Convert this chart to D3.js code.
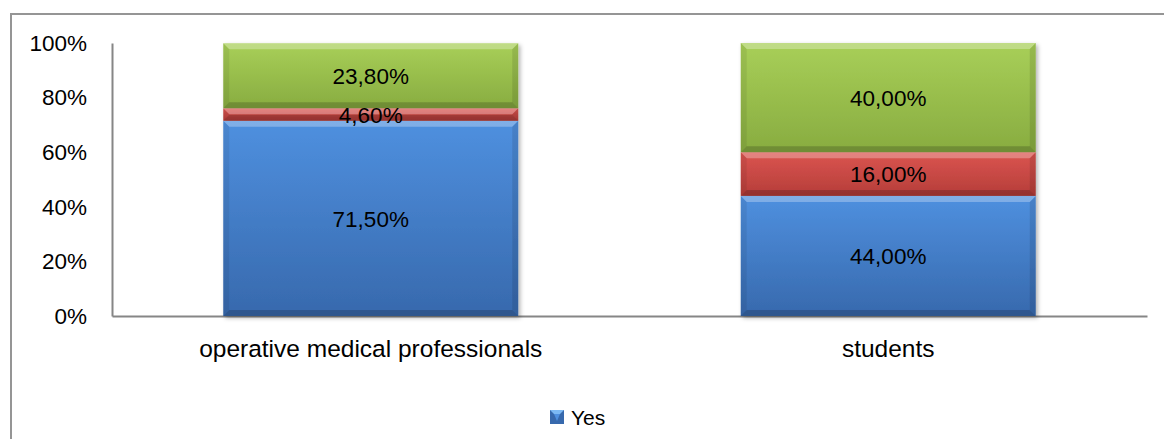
<!DOCTYPE html>
<html>
<head>
<meta charset="utf-8">
<script src="https://cdn.jsdelivr.net/npm/d3@7"></script>
<style>
  body { margin: 0; background: #fff; }
  svg { display: block; font-family: "Liberation Sans", Arial, sans-serif; }
</style>
</head>
<body>
<div id="chart"></div>
<script>
// data
const categories = ["operative medical professionals", "students"];
const yesValues = [71.5, 44.0];
const secondValues = [4.6, 16.0];
const thirdValues = [23.8, 40.0];
const seriesKeys = ["Yes", "s2", "s3"];
const legendNames = ["Yes"];
const yTicks = [0, 20, 40, 60, 80, 100];

const width = 1164, height = 439;
const plot = { left: 112, right: 1147, top: 43, bottom: 316 };

const svg = d3.select("#chart").append("svg")
    .attr("width", width)
    .attr("height", height);

const defs = svg.append("defs");

// body gradient per series (top -> bottom)
const palette = {
    Yes: { b0: "#4f90df", b1: "#3769ad" },
    s2:  { b0: "#db5550", b1: "#b53d39" },
    s3:  { b0: "#a8cf58", b1: "#88ac40" }
};

Object.keys(palette).forEach(k => {
    const g = defs.append("linearGradient")
        .attr("id", "grad-" + k)
        .attr("x1", 0).attr("y1", 0).attr("x2", 0).attr("y2", 1);
    g.append("stop").attr("offset", "0%").attr("stop-color", palette[k].b0);
    g.append("stop").attr("offset", "100%").attr("stop-color", palette[k].b1);
});

const shadow = defs.append("filter").attr("id", "shadow")
    .attr("x", "-5%").attr("y", "-5%").attr("width", "115%").attr("height", "115%");
shadow.append("feDropShadow")
    .attr("dx", 2).attr("dy", 2).attr("stdDeviation", 2)
    .attr("flood-color", "#000").attr("flood-opacity", 0.3);

// outer frame (runs off the right and bottom of the picture)
svg.append("rect")
    .attr("x", 11).attr("y", 14)
    .attr("width", 1200).attr("height", 500)
    .attr("fill", "none")
    .attr("stroke", "#959595")
    .attr("stroke-width", 2);

// scales
const p = 0.43;
const x = d3.scaleBand()
    .domain(categories)
    .range([plot.left, plot.right])
    .paddingInner(p)
    .paddingOuter(p / 2);

const y = d3.scaleLinear()
    .domain([0, 100])
    .range([plot.bottom, plot.top]);

// stacked data
const rows = categories.map((c, i) => ({
    cat: c, Yes: yesValues[i], s2: secondValues[i], s3: thirdValues[i]
}));
const stacked = d3.stack().keys(seriesKeys)(rows);

// Y axis
const yAxis = svg.append("g")
    .attr("transform", `translate(${plot.left},0)`)
    .call(d3.axisLeft(y).tickValues(yTicks).tickSize(0).tickPadding(25)
        .tickFormat(d => d + "%"));
yAxis.select(".domain").attr("stroke", "#868686").attr("stroke-width", 2);
yAxis.selectAll("text")
    .attr("fill", "#000")
    .style("font-size", "22.5px")
    .style("font-family", "'Liberation Sans', Arial, sans-serif");

// X axis
const xAxis = svg.append("g")
    .attr("transform", `translate(0,${plot.bottom})`)
    .call(d3.axisBottom(x).tickSize(0).tickPadding(24));
xAxis.select(".domain").attr("stroke", "#868686").attr("stroke-width", 2);
xAxis.selectAll("text")
    .attr("fill", "#000")
    .style("font-size", "24.5px")
    .style("font-family", "'Liberation Sans', Arial, sans-serif");

// bars with a soft bevel look
const barGroups = categories.map(c => svg.append("g").attr("filter", "url(#shadow)"));

stacked.forEach(layer => {
    const k = layer.key;
    layer.forEach((d, i) => {
        const g = barGroups[i];
        const x0 = x(d.data.cat), x1 = x0 + x.bandwidth();
        const y0 = y(d[1]), y1 = y(d[0]);
        const b = Math.min(6, (y1 - y0) / 2);
        g.append("rect")
            .attr("x", x0).attr("y", y0)
            .attr("width", x1 - x0).attr("height", y1 - y0)
            .attr("fill", `url(#grad-${k})`);
        const poly = (pts, fill, op) => g.append("polygon")
            .attr("points", pts.map(q => q.join(",")).join(" "))
            .attr("fill", fill)
            .attr("fill-opacity", op);
        poly([[x0, y0], [x0 + b, y0 + b], [x0 + b, y1 - b], [x0, y1]], "#000", 0.07);
        poly([[x1, y0], [x1 - b, y0 + b], [x1 - b, y1 - b], [x1, y1]], "#000", 0.1);
        poly([[x0, y0], [x1, y0], [x1 - b, y0 + b], [x0 + b, y0 + b]], "#fff", 0.28);
        poly([[x0, y1], [x1, y1], [x1 - b, y1 - b], [x0 + b, y1 - b]], "#000", 0.18);
    });
});

// data labels
stacked.forEach(layer => {
    svg.append("g").selectAll("text")
        .data(layer)
        .join("text")
        .attr("x", d => x(d.data.cat) + x.bandwidth() / 2)
        .attr("y", d => (y(d[0]) + y(d[1])) / 2)
        .attr("dy", "0.36em")
        .attr("text-anchor", "middle")
        .attr("fill", "#000")
        .style("font-size", "22.5px")
        .text(d => (d[1] - d[0]).toFixed(2).replace(".", ",") + "%");
});

// legend: only the first series carries a name
const legend = svg.append("g").attr("transform", "translate(550,410)");
legendNames.forEach((name, i) => {
    const col = palette[seriesKeys[i]];
    legend.append("rect")
        .attr("x", 0).attr("y", 0).attr("width", 14).attr("height", 14)
        .attr("fill", col.b1);
    legend.append("polygon")
        .attr("points", "0,0 14,0 10,4 4,4")
        .attr("fill", "#7cb9f4");
    legend.append("polygon")
        .attr("points", "4,4 10,4 7,11")
        .attr("fill", col.b0);
    legend.append("text")
        .attr("x", 21).attr("y", 7).attr("dy", "0.36em")
        .attr("fill", "#000")
        .style("font-size", "21px")
        .text(name);
});
</script>
</body>
</html>
